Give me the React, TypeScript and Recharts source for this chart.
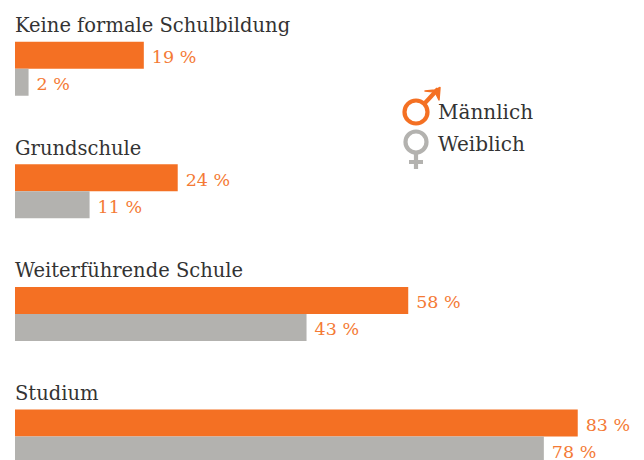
import { Bar, BarChart, LabelList, XAxis, YAxis } from "recharts";

const categories = ["Keine formale Schulbildung", "Grundschule", "Weiterführende Schule", "Studium"];
const maleValues = [19, 24, 58, 83];
const femaleValues = [2, 11, 43, 78];
const seriesNames = ["Männlich", "Weiblich"];

const ORANGE = "#f47023";
const GREY = "#b3b2af";
const LABEL_ORANGE = "#f47a35";
const INK = "#333333";
const FONT = '"DejaVu Serif", serif';

const data = categories.map((name, i) => ({
  name,
  male: maleValues[i],
  female: femaleValues[i],
}));

// px per percent in the reference is about 6.78, plot starts at x=15
const X_MAX = 629 / 6.78;

function CategoryLabel(props: any) {
  const { x, y, value } = props;
  return (
    <text x={x} y={y - 9.5} fill={INK} fontFamily={FONT} fontSize={19.5}>
      {value}
    </text>
  );
}

function ValueLabel(props: any) {
  const { x, y, width, height, value } = props;
  return (
    <text
      x={x + width + 8}
      y={y + height / 2 + 8}
      fill={LABEL_ORANGE}
      fontFamily={FONT}
      fontSize={17.5}
    >
      {value} %
    </text>
  );
}

function MaleIcon() {
  return (
    <svg width="50" height="50" style={{ position: "absolute", left: 395, top: 80 }}>
      <g fill="none" stroke={ORANGE} strokeWidth={4.2}>
        <circle cx={21} cy={32} r={11.5} />
        <path d="M29 24 L43 9" />
      </g>
      <path d="M30 11 L40 10 L44 8 L45 7.5 L44 20 L40 12 Z" fill={ORANGE} stroke={ORANGE} strokeWidth={1.5} strokeLinejoin="round" />
    </svg>
  );
}

function FemaleIcon() {
  return (
    <svg width="40" height="50" style={{ position: "absolute", left: 395, top: 125 }}>
      <g fill="none" stroke={GREY} strokeWidth={4.2}>
        <circle cx={21} cy={17} r={10.5} />
        <path d="M21 28 L21 44 M14 37 L28 37" />
      </g>
    </svg>
  );
}

export default function App() {
  return (
    <div style={{ position: "absolute", left: 0, top: 0, width: 644, height: 460, overflow: "hidden", background: "#fff" }}>
      <BarChart
        width={644}
        height={498}
        data={data}
        layout="vertical"
        margin={{ top: 7.75, right: 0, bottom: 0, left: 15 }}
        barCategoryGap={34}
        barGap={0}
      >
        <XAxis type="number" hide domain={[0, X_MAX]} />
        <YAxis type="category" dataKey="name" hide />
        <Bar dataKey="male" name={seriesNames[0]} fill={ORANGE} isAnimationActive={false}>
          <LabelList dataKey="name" content={<CategoryLabel />} />
          <LabelList dataKey="male" content={<ValueLabel />} />
        </Bar>
        <Bar dataKey="female" name={seriesNames[1]} fill={GREY} isAnimationActive={false}>
          <LabelList dataKey="female" content={<ValueLabel />} />
        </Bar>
      </BarChart>
      <MaleIcon />
      <FemaleIcon />
      <div style={{ position: "absolute", left: 438, top: 99, fontFamily: FONT, fontSize: 20, color: INK, lineHeight: "26px" }}>
        {seriesNames[0]}
      </div>
      <div style={{ position: "absolute", left: 438, top: 131, fontFamily: FONT, fontSize: 20, color: INK, lineHeight: "26px" }}>
        {seriesNames[1]}
      </div>
    </div>
  );
}
